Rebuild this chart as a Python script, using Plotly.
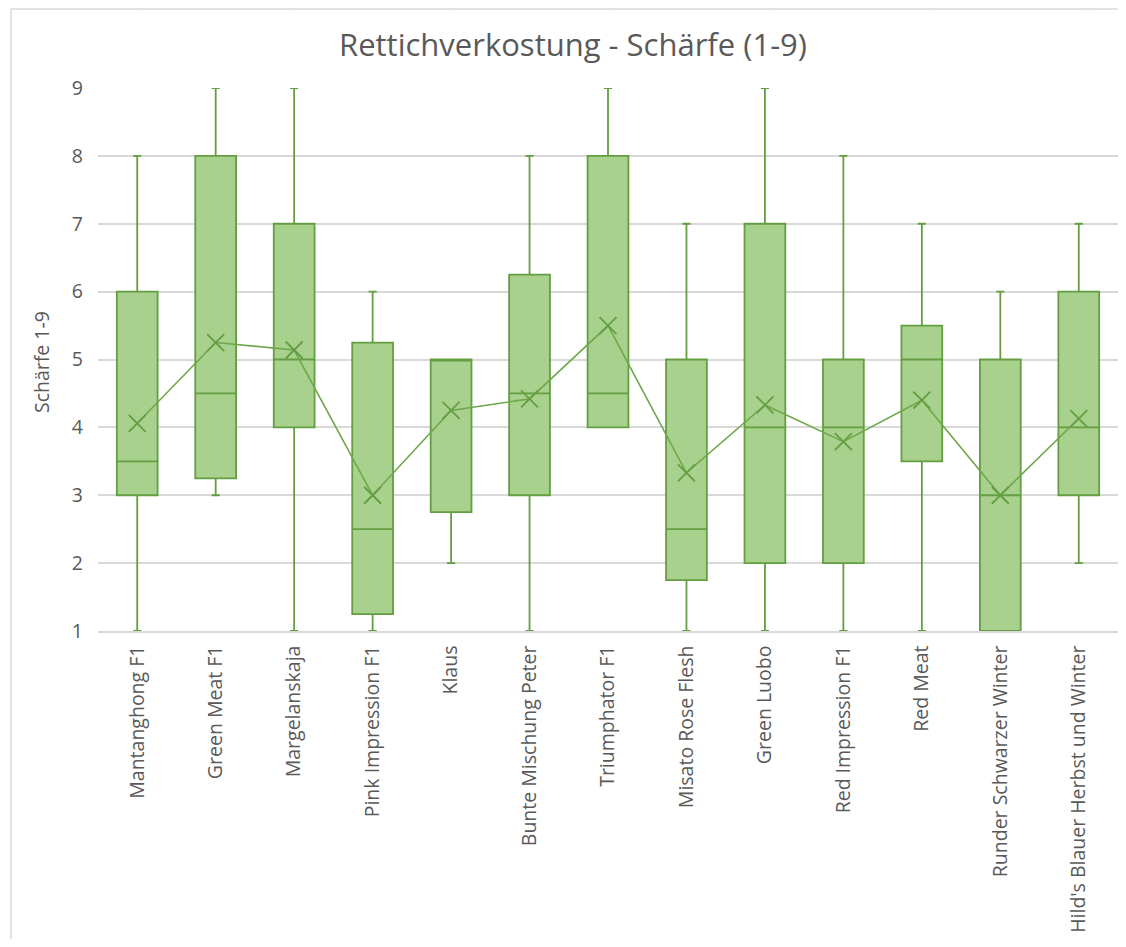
import plotly.graph_objects as go

categories = [
    "Mantanghong F1", "Green Meat F1", "Margelanskaja", "Pink Impression F1",
    "Klaus", "Bunte Mischung Peter", "Triumphator F1", "Misato Rose Flesh",
    "Green Luobo", "Red Impression F1", "Red Meat", "Runder Schwarzer Winter",
    "Hild's Blauer Herbst und Winter",
]
lower_whisker = [1, 3, 1, 1, 2, 1, 4, 1, 1, 1, 1, 1, 2]
q1_values = [3, 3.25, 4, 1.25, 2.75, 3, 4, 1.75, 2, 2, 3.5, 1, 3]
median_values = [3.5, 4.5, 5, 2.5, 5, 4.5, 4.5, 2.5, 4, 4, 5, 3, 4]
q3_values = [6, 8, 7, 5.25, 5, 6.25, 8, 5, 7, 5, 5.5, 5, 6]
upper_whisker = [8, 9, 9, 6, 5, 8, 9, 7, 9, 8, 7, 6, 7]
mean_values = [4.06, 5.25, 5.14, 3.0, 4.25, 4.42, 5.5, 3.33, 4.33, 3.79, 4.4, 3.0, 4.13]
y_ticks = [1, 2, 3, 4, 5, 6, 7, 8, 9]

FILL = "#A9D18E"
LINE = "#639E40"
GRID = "#D9D9D9"
TEXT = "#595959"
FONT = "Open Sans"
LABEL_SIZE = 19.5

# page is offset by the 8px body margin; figure coordinates = page - 8
W, H = 1110, 931
PL, PR, PT, PB = 98, 1118, 88, 631  # plot area in page pixels
PW, PH = PR - PL, PB - PT


def xp(px):
    return (px - PL) / PW


def yp(py):
    return 1 - (py - PT) / PH


fig = go.Figure()
fig.add_trace(go.Box(
    x=categories,
    q1=q1_values,
    median=median_values,
    q3=q3_values,
    lowerfence=lower_whisker,
    upperfence=upper_whisker,
    fillcolor=FILL,
    line=dict(color=LINE, width=1.8),
    width=0.52,
    whiskerwidth=0.2,
    boxpoints=False,
    showlegend=False,
))
fig.add_trace(go.Scatter(
    x=categories,
    y=mean_values,
    mode="lines+markers",
    line=dict(color="#6FA84B", width=1.6),
    marker=dict(symbol="x-thin", size=17, line=dict(color=LINE, width=1.8)),
    showlegend=False,
))

shapes = [
    dict(type="line", xref="paper", yref="paper", x0=xp(11), x1=xp(1140), y0=yp(9), y1=yp(9),
         line=dict(color=GRID, width=1.5)),
    dict(type="line", xref="paper", yref="paper", x0=xp(11), x1=xp(11), y0=yp(9), y1=yp(960),
         line=dict(color=GRID, width=1.5)),
]
for px in [137, 295, 453, 612, 770, 929, 1088]:
    shapes.append(dict(type="line", xref="paper", yref="paper", x0=xp(px), x1=xp(px),
                       y0=yp(9), y1=yp(0), line=dict(color=GRID, width=1)))

fig.update_layout(
    width=W,
    height=H,
    margin=dict(l=PL - 8, r=W - (PR - 8), t=PT - 8, b=H - (PB - 8)),
    paper_bgcolor="white",
    plot_bgcolor="white",
    title=dict(text="Rettichverkostung - Schärfe (1-9)", x=(573 - 8) / W, xanchor="center",
               y=1 - (45 - 8) / H, yanchor="middle",
               font=dict(family=FONT, size=31, color=TEXT)),
    font=dict(family=FONT, color=TEXT),
    shapes=shapes,
    annotations=[dict(text="Schärfe 1-9", xref="paper", yref="paper", x=xp(41), y=yp(362),
                      textangle=-90, showarrow=False, xanchor="center", yanchor="middle",
                      font=dict(family=FONT, size=LABEL_SIZE, color=TEXT))],
    xaxis=dict(
        type="category",
        range=[-0.5, 12.5],
        tickangle=-90,
        tickfont=dict(family=FONT, size=LABEL_SIZE, color=TEXT),
        showgrid=False,
        showline=True,
        linecolor=GRID,
        linewidth=1.5,
        ticks="",
        ticklabelstandoff=5,
        automargin=False,
    ),
    yaxis=dict(
        range=[1, 9],
        tickvals=y_ticks,
        tickfont=dict(family=FONT, size=LABEL_SIZE, color=TEXT),
        showgrid=True,
        gridcolor=GRID,
        gridwidth=1.5,
        zeroline=False,
        showline=False,
        ticks="",
        ticklabelstandoff=14,
        automargin=False,
    ),
)

fig.write_html("out.html")
